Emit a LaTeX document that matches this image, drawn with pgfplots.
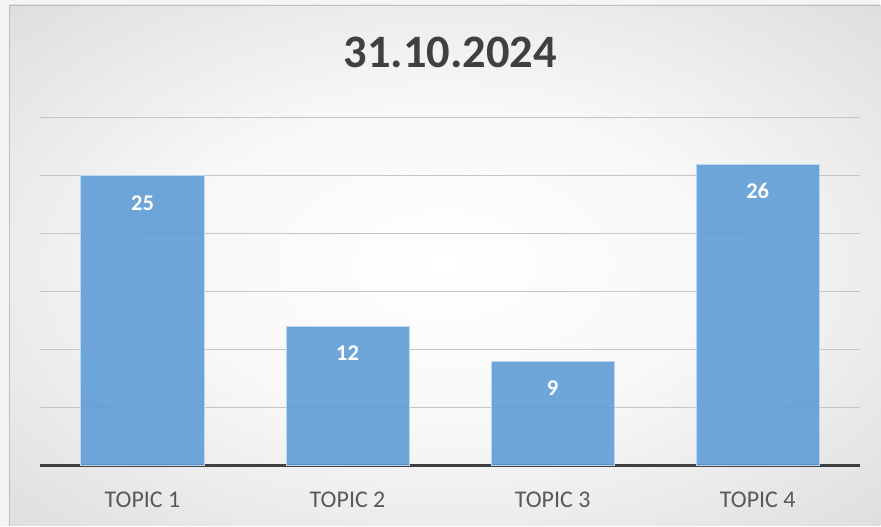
\documentclass[border=0pt]{standalone}
\usepackage{pgfplots}
\pgfplotsset{compat=1.18}
\usepackage{fontspec}
\setmainfont{Carlito}
\definecolor{barc}{RGB}{91,155,213}
\definecolor{barline}{RGB}{189,215,238}
\definecolor{gridc}{RGB}{198,198,198}
\definecolor{axisc}{RGB}{64,64,64}
\definecolor{txt}{RGB}{89,89,89}
\definecolor{titlec}{RGB}{64,64,64}
\definecolor{marginc}{RGB}{245,245,243}
\definecolor{framec}{RGB}{190,190,190}
\pgfdeclareradialshading{bgshade}{\pgfpoint{0bp}{0bp}}{color(0bp)=(white); color(16bp)=(white!97!black); color(50bp)=(black!20); color(72bp)=(black!26)}
\begin{document}
\begin{tikzpicture}[x=1pt,y=1pt]
\fill[marginc] (0,0) rectangle (881,526);
\shade[shading=bgshade] (9,0) rectangle (881,521);
\draw[framec, line width=1.5pt] (9.75,0) -- (9.75,520.25) -- (881,520.25);
\begin{axis}[
  at={(40pt,60pt)}, anchor=south west,
  scale only axis, width=821pt, height=348pt,
  xmin=-0.5, xmax=3.5, ymin=0, ymax=30,
  axis line style={draw=none},
  /pgf/number format/assume math mode=true,
  ytick={5,10,...,30}, yticklabels={},
  ymajorgrids, grid style={gridc, line width=1.2pt},
  extra y ticks={0}, extra y tick labels={},
  extra y tick style={grid style={axisc, line width=3pt}},
  tick style={draw=none},
  xtick={0,1,2,3},
  xticklabels={TOPIC 1,TOPIC 2,TOPIC 3,TOPIC 4},
  xticklabel style={anchor=base, yshift=-38pt, font=\fontsize{24}{26}\selectfont, text=txt},
  ybar, bar width=0.6, bar shift=0pt,
  nodes near coords,
  nodes near coords align={center},
  every node near coord/.append style={yshift=-27pt, font=\fontsize{22.5}{24}\selectfont\bfseries, text=white},
]
\addplot[fill=barc, fill opacity=0.88, draw=barline, line width=1pt, text opacity=1] coordinates {(0,25) (1,12) (2,9) (3,26)};
\end{axis}
\node[font=\fontsize{46.5}{50}\selectfont\bfseries, text=titlec, anchor=base] at (450.5,458) {31.10.2024};
\end{tikzpicture}
\end{document}
